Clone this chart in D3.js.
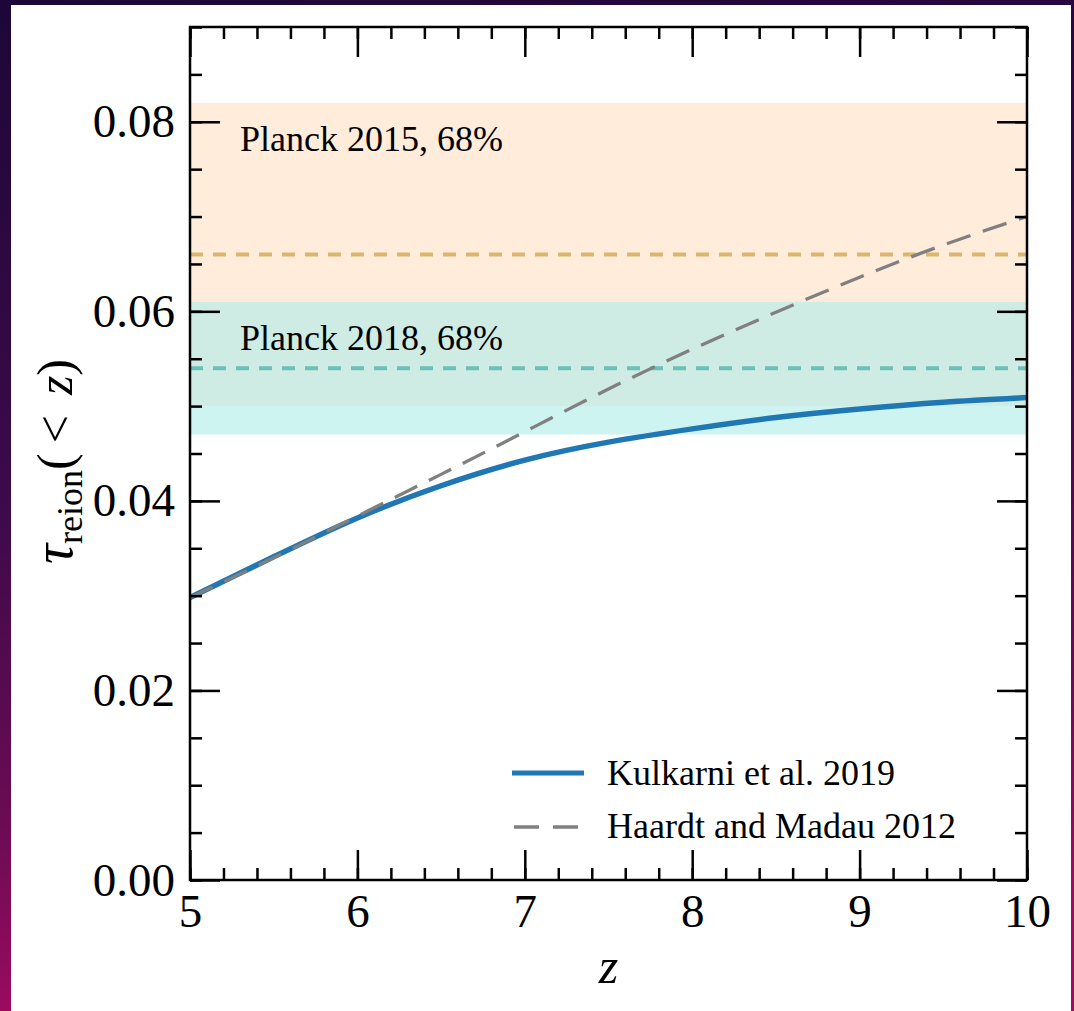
<!DOCTYPE html>
<html>
<head>
<meta charset="utf-8">
<script src="https://cdn.jsdelivr.net/npm/d3@7"></script>
<style>
body { margin: 0; }
svg text { font-family: "Liberation Serif", "DejaVu Serif", serif; fill: #000; }
</style>
</head>
<body>
<div id="chart"></div>
<script>
// values
var zGrid = [5, 5.5, 6, 6.5, 7, 7.5, 8, 8.5, 9, 9.5, 10]
var tauKulkarni = [0.0298, 0.0341, 0.0382, 0.0416, 0.0443, 0.0462, 0.0476, 0.0488, 0.0497, 0.0504, 0.0509]
var tauHM12 = [0.0298, 0.0340, 0.0384, 0.0428, 0.0473, 0.0518, 0.0560, 0.0599, 0.0636, 0.0670, 0.0700]
var planckNames = ["Planck 2015, 68%", "Planck 2018, 68%"]
var planckMean = [0.066, 0.054]
var planckErr = [0.016, 0.007]
var xTicks = [5, 6, 7, 8, 9, 10]
var yTicks = [0, 0.02, 0.04, 0.06, 0.08]
var legendNames = ["Kulkarni et al. 2019", "Haardt and Madau 2012"]

var svgWdth = 1074
var svgHt = 1011
var margin = {top: 27, left: 190, right: 47, bottom: 131}
var width = svgWdth - margin.left - margin.right
var height = svgHt - margin.top - margin.bottom

var svg = d3.select("#chart")
    .append("svg")
    .attr("width", svgWdth)
    .attr("height", svgHt)

// dark gradient frame + white card
var grad = svg.append("defs").append("linearGradient")
    .attr("id", "bg").attr("x1", 0).attr("y1", 0).attr("x2", 0.15).attr("y2", 1)
grad.append("stop").attr("offset", "0%").attr("stop-color", "#1c0738")
grad.append("stop").attr("offset", "50%").attr("stop-color", "#3e0a4a")
grad.append("stop").attr("offset", "80%").attr("stop-color", "#6c0b54")
grad.append("stop").attr("offset", "100%").attr("stop-color", "#a00b60")
svg.append("rect").attr("width", svgWdth).attr("height", svgHt).attr("fill", "url(#bg)")
svg.append("rect").attr("x", 11).attr("y", 5).attr("width", 1060).attr("height", 1010).attr("fill", "#fff")

var x = d3.scaleLinear().domain([5, 10]).range([0, width])
var y = d3.scaleLinear().domain([0, 0.09]).range([height, 0])

svg.append("clipPath").attr("id", "plotclip")
    .append("rect").attr("width", width).attr("height", height)

var chartGroup = svg.append("g")
    .attr("transform", `translate(${margin.left}, ${margin.top})`)

// planck bands
var bandFill = ["#ff7f0e", "#abece9"]
var bandOpacity = [0.15, 0.58]
var meanColor = ["#dbb66c", "#6bc0b7"]
chartGroup.selectAll(".band")
    .data(planckMean)
    .enter().append("rect")
    .attr("class", "band")
    .attr("x", 0)
    .attr("width", width)
    .attr("y", (d, i) => y(d + planckErr[i]))
    .attr("height", (d, i) => y(d - planckErr[i]) - y(d + planckErr[i]))
    .attr("fill", (d, i) => bandFill[i])
    .attr("fill-opacity", (d, i) => bandOpacity[i])

chartGroup.selectAll(".mean")
    .data(planckMean)
    .enter().append("line")
    .attr("class", "mean")
    .attr("x1", 0).attr("x2", width)
    .attr("y1", d => y(d)).attr("y2", d => y(d))
    .attr("stroke", (d, i) => meanColor[i])
    .attr("stroke-width", 4)
    .attr("stroke-dasharray", "13,10")

chartGroup.selectAll(".planckText")
    .data(planckNames)
    .enter().append("text")
    .attr("class", "planckText")
    .attr("x", 50)
    .attr("y", (d, i) => y(planckMean[i] + planckErr[i]) + 48)
    .attr("font-size", 36)
    .text(d => d)

// curves
var lineTau = d3.line()
    .x((d, i) => x(zGrid[i]))
    .y(d => y(d))
    .curve(d3.curveNatural)

var curves = chartGroup.append("g").attr("clip-path", "url(#plotclip)")
curves.append("path")
    .datum(tauKulkarni)
    .attr("d", lineTau)
    .attr("fill", "none")
    .attr("stroke", "#1f77b4")
    .attr("stroke-width", 5.5)
curves.append("path")
    .datum(tauHM12)
    .attr("d", lineTau)
    .attr("fill", "none")
    .attr("stroke", "#808080")
    .attr("stroke-width", 3.3)
    .attr("stroke-dasharray", "25,13")

// legend
var legend = chartGroup.append("g").attr("transform", "translate(322, 746)")
legend.append("line").attr("x1", 0).attr("x2", 72).attr("y1", 0).attr("y2", 0)
    .attr("stroke", "#1f77b4").attr("stroke-width", 5)
legend.append("line").attr("x1", 2).attr("x2", 69).attr("y1", 54).attr("y2", 54)
    .attr("stroke", "#808080").attr("stroke-width", 3.3).attr("stroke-dasharray", "25,14")
legend.selectAll(".legText")
    .data(legendNames)
    .enter().append("text")
    .attr("x", 95)
    .attr("y", (d, i) => 12 + i * 53)
    .attr("font-size", 36)
    .text(d => d)

// axes, ticks inward on all four sides
var minorX = d3.range(5, 10.01, 0.2)
var minorY = d3.range(0, 0.0901, 0.005)

function styleAxis(g) {
    g.select(".domain").remove()
    g.selectAll("line").attr("stroke", "#000").attr("stroke-width", 2.5)
}

chartGroup.append("g").attr("transform", `translate(0, ${height})`)
    .call(d3.axisBottom(x).tickValues(minorX).tickSize(-12).tickFormat("")).call(styleAxis)
chartGroup.append("g")
    .call(d3.axisTop(x).tickValues(minorX).tickSize(-12).tickFormat("")).call(styleAxis)
chartGroup.append("g")
    .call(d3.axisLeft(y).tickValues(minorY).tickSize(-12).tickFormat("")).call(styleAxis)
chartGroup.append("g").attr("transform", `translate(${width}, 0)`)
    .call(d3.axisRight(y).tickValues(minorY).tickSize(-12).tickFormat("")).call(styleAxis)

var xAxis = chartGroup.append("g")
    .attr("transform", `translate(0, ${height})`)
    .call(d3.axisBottom(x).tickValues(xTicks).tickSizeInner(-30).tickSizeOuter(0).tickPadding(14).tickFormat(d3.format("d")))
    .call(styleAxis)
chartGroup.append("g")
    .call(d3.axisTop(x).tickValues(xTicks).tickSizeInner(-30).tickSizeOuter(0).tickFormat(""))
    .call(styleAxis)
var yAxis = chartGroup.append("g")
    .call(d3.axisLeft(y).tickValues(yTicks).tickSizeInner(-30).tickSizeOuter(0).tickPadding(15).tickFormat(d3.format(".2f")))
    .call(styleAxis)
chartGroup.append("g").attr("transform", `translate(${width}, 0)`)
    .call(d3.axisRight(y).tickValues(yTicks).tickSizeInner(-30).tickSizeOuter(0).tickFormat(""))
    .call(styleAxis)

chartGroup.selectAll(".tick text")
    .attr("font-family", "Liberation Serif, serif")
    .attr("font-size", 47)
    .attr("fill", "#000")

chartGroup.append("rect")
    .attr("width", width).attr("height", height)
    .attr("fill", "none").attr("stroke", "#000").attr("stroke-width", 2.5)

// axis labels
svg.append("text")
    .attr("x", margin.left + width / 2)
    .attr("y", 983)
    .attr("text-anchor", "middle")
    .attr("font-size", 50)
    .attr("font-style", "italic")
    .text("z")

var yLab = svg.append("text")
    .attr("transform", "translate(72, 564) rotate(-90)")
    .attr("font-size", 50)
yLab.append("tspan").attr("font-style", "italic").attr("font-size", 56).text("τ")
yLab.append("tspan").attr("font-size", 36).attr("dy", 10).text("reion")
yLab.append("tspan").attr("dy", -10).text("(\u2009<\u2009\u2009")
yLab.append("tspan").attr("font-style", "italic").text("z")
yLab.append("tspan").text(")")
</script>
</body>
</html>
